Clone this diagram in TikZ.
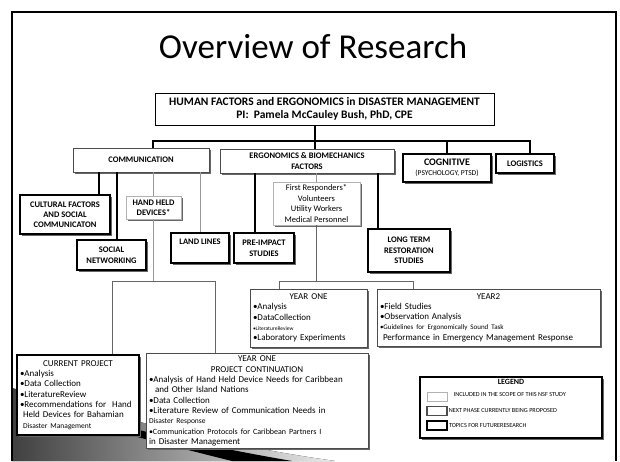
\documentclass[tikz,border=0pt]{standalone}
\usepackage{fontspec}
\setmainfont{Carlito}
\usetikzlibrary{positioning,shadows}

\begin{document}
\begin{tikzpicture}[x=1pt,y=-1pt,node distance=3pt and 4pt]
  \tikzstyle{box}=[rectangle,fill=white,align=center,inner sep=1pt,drop shadow={shadow xshift=1.5pt,shadow yshift=-1.5pt,fill=black!60,opacity=1}]
  \tikzstyle{futurebox}=[box,draw=black,line width=1.1pt]
  \tikzstyle{nextbox}=[box,draw=black!70,line width=0.9pt]
  \tikzstyle{scopebox}=[box,draw=black!30,line width=0.9pt]
  \tikzstyle{futureline}=[draw=black,line width=1.5pt]
  \tikzstyle{nextline}=[draw=black!60,line width=1pt]
  \tikzstyle{scopeline}=[draw=black!40,line width=0.9pt]
  \tikzstyle{capfont}=[font=\bfseries\fontsize{8.5}{10}\selectfont]
  \tikzstyle{listbox}=[align=left,inner sep=3pt,font=\fontsize{9}{10.3}\selectfont]
  \tikzstyle{swatch}=[rectangle,fill=white,minimum width=20,minimum height=9,inner sep=0pt]
  \tikzstyle{legtext}=[inner sep=1pt,font=\fontsize{6.2}{7}\selectfont]
  \useasboundingbox (0,0) rectangle (620,461);

  % slide decoration
  \fill[left color=black!75,right color=black!8] (12,388) .. controls (110,415) and (220,445) .. (335,461) -- (12,461) -- cycle;
  \fill[black] (130,428) .. controls (190,442) and (240,452) .. (292,461) -- (232,461) .. controls (200,453) and (160,443) .. (130,435) -- cycle;
  \draw[line width=1.8pt] (12,461) -- (12,12) -- (616,12) -- (616,461);

  \node[font=\fontsize{35}{40}\selectfont] (title) at (313,46) {Overview of Research};
  \node[draw=black,line width=1pt,fill=white,minimum width=339,minimum height=32,inner sep=1pt,align=center,font=\bfseries\fontsize{11.5}{13}\selectfont] (main) at (324.5,109) {HUMAN FACTORS and ERGONOMICS in DISASTER MANAGEMENT\\PI:\ \ Pamela McCauley Bush, PhD, CPE};

  % first level
  \node[nextbox,capfont,minimum width=136,minimum height=24] (comm) at (141,160) {COMMUNICATION};
  \node[nextbox,minimum width=174,minimum height=24,inner sep=0pt,font=\bfseries\fontsize{8.5}{11.5}\selectfont] (ergo) at (307,161) {ERGONOMICS \& BIOMECHANICS\\FACTORS};
  \node[futurebox,minimum width=88,minimum height=28,font=\fontsize{8}{10}\selectfont] (cog) at (447,168) {{\bfseries\fontsize{10}{10}\selectfont COGNITIVE}\\{\fontsize{7.5}{8}\selectfont (PSYCHOLOGY, PTSD)}};
  \node[futurebox,capfont,minimum width=58,minimum height=19] (logi) at (525,163.5) {LOGISTICS};

  % second level
  \node[futurebox,capfont,minimum width=90,minimum height=39] (cult) at (65,214.5) {CULTURAL FACTORS\\AND SOCIAL\\COMMUNICATON};
  \node[futurebox,minimum width=69,minimum height=30,font=\bfseries\fontsize{8.5}{11}\selectfont] (social) at (111.5,255) {SOCIAL\\NETWORKING};
  \node[scopebox,capfont,minimum width=55,minimum height=23] (hand) at (153.5,207.5) {HAND HELD\\DEVICES*};
  \node[futurebox,capfont,minimum width=58,minimum height=30] (land) at (200,248) {LAND LINES\\\strut};
  \node[futurebox,minimum width=60,minimum height=30,font=\bfseries\fontsize{8.5}{11}\selectfont] (pre) at (264,248) {PRE-IMPACT\\STUDIES};
  \node[scopebox,minimum width=87,minimum height=43,font=\fontsize{8.5}{10.5}\selectfont] (first) at (316.5,203.5) {First Responders*\\Volunteers\\Utility Workers\\Medical Personnel};
  \node[futurebox,minimum width=82,minimum height=43,font=\bfseries\fontsize{8.5}{10.5}\selectfont] (long) at (409,250.5) {LONG TERM\\RESTORATION\\STUDIES};

  % third level
  \node[nextbox,listbox,text width=111,minimum height=58] (yr1) at (308.5,318) {\makebox[\linewidth]{YEAR ONE}\\•Analysis\\•DataCollection\\{\fontsize{5.5}{6}\selectfont •LiteratureReview}\\•Laboratory Experiments};
  \node[nextbox,listbox,text width=217,minimum height=57] (yr2) at (488.5,317.5) {\makebox[\linewidth]{YEAR2}\\•Field Studies\\•Observation Analysis\\{\fontsize{7}{8}\selectfont •Guidelines for Ergonomically Sound Task}\\\ Performance in Emergency Management Response};
  \node[futurebox,listbox,text width=116,minimum height=80] (cur) at (78,395) {\makebox[\linewidth]{CURRENT PROJECT}\\•Analysis\\•Data Collection\\•LiteratureReview\\•Recommendations for\ \ Hand\\\ Held Devices for Bahamian\\{\fontsize{7.5}{8}\selectfont\ Disaster Management}};
  \node[nextbox,listbox,text width=216,minimum height=94] (cont) at (257,401) {\makebox[\linewidth]{YEAR ONE}\\\makebox[\linewidth]{PROJECT CONTINUATION}\\•Analysis of Hand Held Device Needs for Caribbean\\\ \ and Other Island Nations\\•Data Collection\\•Literature Review of Communication Needs in\\{\fontsize{7.5}{8}\selectfont Disaster Response}\\{\fontsize{8}{9}\selectfont •Communication Protocols for Caribbean Partners I}\\in Disaster Management};

  % legend
  \node[futurebox,line width=2.2pt,minimum width=182,minimum height=61] (legend) at (511,407.5) {};
  \node[inner sep=0pt,font=\bfseries\fontsize{8}{8}\selectfont,below=3pt of legend.north] (legtitle) {LEGEND};
  \node[swatch,draw=black!30,line width=1pt] (sw1) at (437,396.5) {};
  \node[swatch,draw=black!70,line width=1.2pt] (sw2) at (437,411) {};
  \node[swatch,draw=black,line width=1.6pt] (sw3) at (437,425.5) {};
  \node[legtext,right=5pt of sw1,yshift=2pt] (leg1) {INCLUDED IN THE SCOPE OF THIS NSF STUDY};
  \node[legtext,right=0pt of sw2] (leg2) {NEXT PHASE CURRENTLY BEING PROPOSED};
  \node[legtext,right=0pt of sw3] (leg3) {TOPICS FOR FUTURERESEARCH};

  % connectors
  \coordinate (busL) at (153,141);
  \coordinate (busM) at (315,141);
  \coordinate (busR) at (530,141);
  \coordinate (xCult) at (99,0);
  \coordinate (xSocial) at (117,0);
  \coordinate (xPre) at (255,0);
  \coordinate (xLong) at (378,0);
  \coordinate (handbusL) at (112,281);
  \coordinate (handbusR) at (215,281);
  \coordinate (firstbusL) at (279,281);
  \coordinate (firstbusR) at (413,281);

  \draw[futureline] (main.south -| busM) -- (ergo.north -| busM);
  \draw[futureline] (comm.north -| busL) |- (busR) -- (logi.north -| busR);
  \draw[futureline] (cog.north) -- (cog.north |- busR);
  \draw[futureline] (comm.south -| xCult) -- (cult.north -| xCult);
  \draw[futureline] (comm.south -| xSocial) -- (social.north -| xSocial);
  \draw[scopeline] (comm.south -| hand.north) -- (hand.north);
  \draw[scopeline] (comm.south -| land.north) -- (land.north);
  \draw[futureline] (ergo.south -| xPre) -- (pre.north -| xPre);
  \draw[scopeline] (ergo.south -| first.north) -- (first.north);
  \draw[futureline] (ergo.south -| xLong) -- (long.north -| xLong);
  \draw[scopeline] (hand.south) -- (hand.south |- handbusL);
  \draw[nextline] (cur.north -| handbusL) |- (handbusR) -- (cont.north -| handbusR);
  \draw[nextline] (first.south) -- (first.south |- firstbusL);
  \draw[nextline] (yr1.north -| firstbusL) |- (firstbusR) -- (yr2.north -| firstbusR);
\end{tikzpicture}
\end{document}
